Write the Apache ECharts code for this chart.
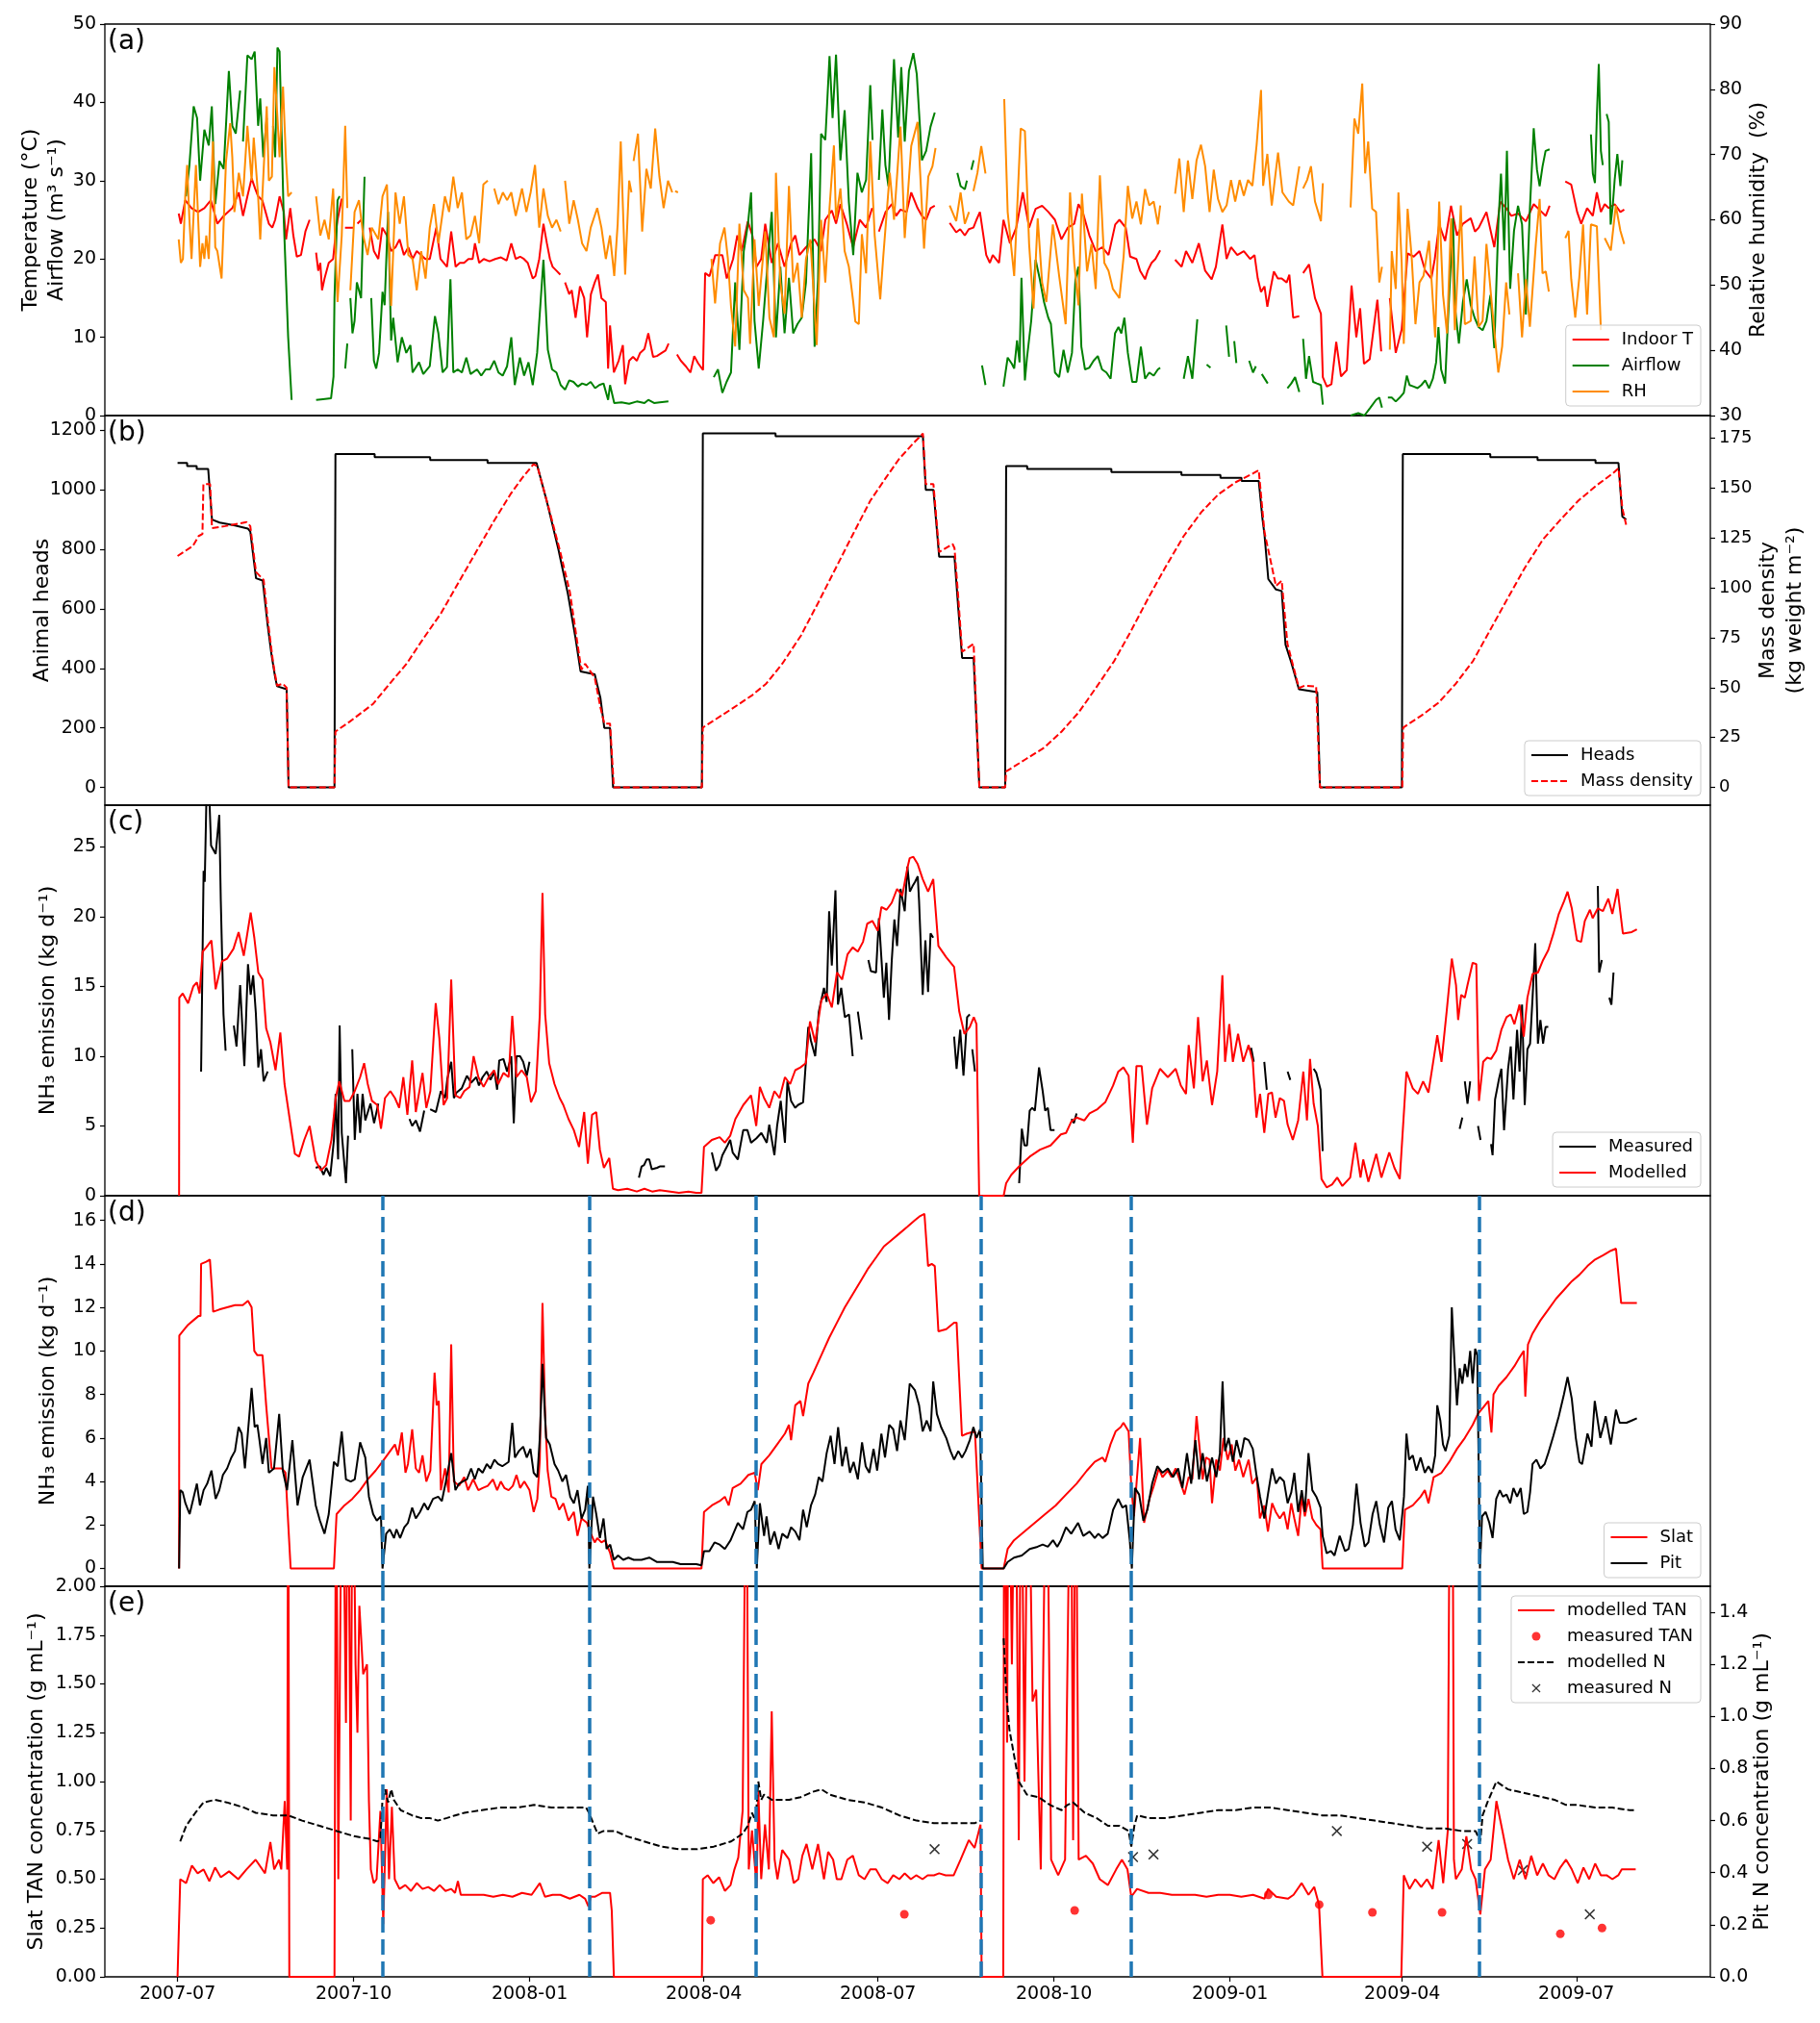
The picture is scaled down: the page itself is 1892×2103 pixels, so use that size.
<!DOCTYPE html>
<html><head><meta charset="utf-8">
<script src="https://cdn.jsdelivr.net/npm/echarts@6/dist/echarts.min.js"></script>
<style>html,body{margin:0;padding:0;background:#fff}#c{width:1892px;height:2103px}</style>
</head><body><div id="c"></div>
<script>
// ---------- time base (day offsets from 2007-07-01) ----------
const DAY0 = '2007-07-01';
const xRange = ['2007-05-24', '2009-09-09'];
const xTickLabels = ['2007-07','2007-10','2008-01','2008-04','2008-07','2008-10','2009-01','2009-04','2009-07'];
const vlineDates = ['2007-10-16','2008-02-01','2008-04-28','2008-08-24','2008-11-10','2009-05-11'];

// ---------- tick values ----------
const ticksTemp = [0,10,20,30,40,50];
const ticksRH = [30,40,50,60,70,80,90];
const ticksHeads = [0,200,400,600,800,1000,1200];
const ticksMass = [0,25,50,75,100,125,150,175];
const ticksEmisC = [0,5,10,15,20,25];
const ticksEmisD = [0,2,4,6,8,10,12,14,16];
const ticksTAN = [0,0.25,0.5,0.75,1,1.25,1.5,1.75,2];
const ticksPitN = [0,0.2,0.4,0.6,0.8,1,1.2,1.4];

// ---------- (a) ----------
const indoorT = [[0.6,25.8],[1.7,24.5],[4,27.5],[7.3,26.5],[10.7,26],[14,26.5],[17.4,27.5],[20.8,24.5],[24.1,25.5],[28.6,26.5],[32,28.5],[34.2,25.5],[36.5,28],[38.7,30.3],[40.5,29],[42.1,28],[44.3,27.5],[46,26],[47.7,24.5],[49.5,24],[51,25],[53.3,28],[55.5,26],[56.7,22.5],[58.9,26.5],[60.5,23],[62.3,20.3],[64.5,20.5],[66.8,23.5],[69,25],[70,null],[72.4,20.8],[73.5,18.5],[74.6,19.5],[75.5,16],[76.8,17.5],[79,19.5],[81.3,20],[82.5,23],[83.6,25],[85.8,27.7],[86.5,null],[87.5,24],[92,24],[93,null],[94,24.5],[96,25],[98,null],[100.4,24],[102.6,21],[104.9,20],[107,24],[109.4,23],[111.6,21],[113.9,21.5],[116,22.5],[118.3,20.5],[120.6,21.5],[122.8,20],[125,21],[127.3,20.5],[129.5,20],[131.8,20],[135.2,24],[137.4,20],[140.8,19],[143,23.5],[145.3,19],[147.5,19.5],[149.7,19.5],[152,20],[154.2,20],[155.4,22],[157.6,19.5],[160,20],[163,19.7],[166,20],[169,20.2],[172,19.8],[174.4,22],[176.7,20],[179,20.3],[181,20],[183,19.5],[185.6,17.5],[187,17.8],[189,20],[191.2,24.5],[193,22],[194.6,20],[196,19],[198,18.5],[200,18],[201,null],[202.5,17],[204.7,15.5],[206,16],[208,12.5],[210.3,16.5],[212.5,15],[214,10],[216,15.5],[218,17],[219.7,18],[221.5,15],[223.8,14.5],[225,6],[226,11.5],[228,5.5],[230.5,7],[232.7,9],[233.9,4],[236,7],[238,7.5],[240,7],[241.7,8],[244,8.5],[246,10.5],[248.5,7.5],[250.5,7.6],[253,8],[255,8.3],[256.6,9.2],[257.5,null],[261,7.8],[263,7],[265.6,6.3],[268,5.5],[270,7.6],[272,6.7],[274.6,5.8],[275.7,18.2],[278,17.8],[281,20.5],[284.7,20.5],[287,17.5],[290.3,20],[292.5,23],[294.8,21],[298,24.8],[300.4,23],[302.6,19],[305,20],[307.1,24.5],[310.5,19.5],[313.8,22],[317.2,19],[320.6,22],[322.8,23],[325,20.5],[328.4,21.5],[332.9,22.5],[336.2,21],[338.5,25],[341.9,26.2],[344.1,24.5],[346.4,27],[349.7,24.5],[353,21.5],[356.5,25],[359.8,24],[363,26.5],[364,null],[366.5,23.5],[370,26],[373.3,27],[375.5,25.5],[377.8,26.3],[381,26],[383.4,28.5],[386.7,26.5],[389,25.5],[391.2,25],[393.5,26.5],[395.7,26.8],[396.5,null],[403.5,24.6],[406.9,23.4],[409,23.8],[411.4,23],[413.5,23.8],[415.9,24],[417.5,25],[419.3,26],[422.6,20.5],[424.5,19.5],[426,20.5],[429.3,19.5],[431.6,25],[435,22],[438.3,24],[441.7,28.5],[445,24],[448.4,26.4],[451.8,26.8],[455.1,26],[458.5,25],[461.9,22.5],[465.2,24],[468.6,24.5],[470.8,27],[473,26],[476.5,23],[479.8,21],[483.2,21.5],[486.5,20.5],[490,24.4],[492.2,25],[495.5,24],[497.8,20.3],[501.1,20],[503,18.5],[505.6,17.4],[507,18.5],[509,19.5],[511,20],[513.5,21.1],[514.5,null],[521.3,19.9],[524.7,19],[527,21],[530.3,19.5],[533.7,22],[537,18.5],[540.4,17.4],[542.6,19],[546,24.4],[548.2,20],[550.5,21.5],[553.8,20.5],[557.2,21],[560.5,20],[562.8,20.5],[564.5,17.5],[566.2,15.8],[568,16.5],[569.5,13.9],[571,16],[572.9,18.4],[575,17.5],[577,17.5],[579.6,17],[581,18],[583,12.5],[586.2,12.7],[587,null],[588.2,18.2],[591.3,19.3],[594.4,15],[597.5,13],[598.5,4.9],[600.6,3.7],[603,4],[605.5,9.4],[608,5],[611,5.8],[613.5,16.6],[616,10],[618,13.7],[620,6.6],[623,7.2],[627,14.8],[629,8.2],[630.5,null],[633.5,15],[636.6,8],[639.7,11],[642.8,20.7],[646,20.3],[649,21],[652,18.5],[655.2,17.5],[657,20],[659.3,24.4],[662.4,22.3],[665.5,26.8],[668.6,23],[671.7,24.5],[675.8,25.2],[678,23.5],[680,24],[682,25],[684,26],[688.1,21.5],[691.2,27.3],[694.3,26.5],[697,25.5],[700.5,25.8],[704.6,24.8],[708.7,27],[712.9,26],[715,25.5],[717,26.8],[718,null],[725.2,29.9],[728.3,29.5],[731.4,26],[733.5,24.5],[736.6,26.5],[739.6,25.5],[741.7,28.5],[743.8,26],[745.8,27],[747.9,26.5],[751,27],[754,26],[756,26.3]];

const airflow = [[4.4,28],[6.2,32],[8.4,39.5],[10.2,38],[11.8,30],[14,36.5],[16.3,34.5],[17.9,39.5],[19.7,27],[21.9,32.5],[24.1,31.5],[26.8,44],[28.6,37],[30.4,36],[32.7,41.5],[33.5,null],[34.2,35],[36.5,46],[38.7,45.5],[40.3,46.5],[42.1,37],[43.2,40.5],[44.8,33],[46.6,38],[47.5,null],[49.9,37],[51,33],[52.2,47],[53.3,46.5],[55.5,25],[57.8,10],[59.6,2],[60.2,null],[72.4,2],[76,2.1],[80.2,2.2],[81.5,5],[82,15],[83.6,27.5],[84.7,28],[85.5,null],[87.6,6],[88.7,9.2],[89.5,null],[90.3,15],[91.4,10.5],[92.5,12.1],[93.7,17],[95.9,15],[97.7,30.5],[98.5,null],[101.2,15],[102.6,7],[103.8,6],[105.3,8],[107.1,15.8],[108.2,14.1],[110,26],[111.6,9.6],[112.7,12.5],[115,6.8],[117.2,10],[119.5,8],[121.7,9],[122.8,5.5],[126.2,6.8],[128.4,5.3],[131.8,6.3],[134.5,12.7],[136.3,10.5],[138.5,5.5],[140.8,6.2],[142.6,17.4],[144.1,5.5],[146.4,5.9],[148.6,5.5],[150.9,7.4],[153.1,5.3],[156.5,5.9],[158.7,5.1],[161,5.9],[163.2,5.9],[165.5,7],[167.7,5.5],[169.9,5.1],[172.2,6.3],[174.4,10],[176.2,3.9],[178.9,7.4],[181.1,5.1],[183.4,6.8],[185.6,3.9],[187.9,8],[191.2,19.9],[193.5,8.4],[195.7,5.9],[198,5.5],[200.2,3.9],[202.5,3.3],[204.7,4.5],[206.9,4.3],[209.2,3.7],[211.4,4.1],[213.7,3.9],[215.9,4.3],[218.2,3.5],[220.4,3.9],[222.6,4.1],[225,2],[226,3.9],[228.2,1.6],[232,1.7],[236,1.5],[240,1.8],[244,1.6],[246,2],[249,1.6],[252,1.7],[256.5,1.8],[257.5,null],[280.2,4.9],[282.4,5.9],[284.7,2.9],[286.9,4.3],[289.2,5.5],[291.4,17],[293.6,8.4],[295.9,21],[298.1,24.5],[299.7,28.5],[301.5,12.1],[303.7,6],[306,12.1],[308.2,19],[310.5,26],[312.7,10],[315,19],[317.2,10.5],[319.5,17.6],[321.7,10.5],[324,11.7],[326.2,12.5],[328.4,17],[331.1,33.5],[332.9,8.8],[334.7,17.4],[336.3,36],[338.5,35.2],[340.7,45.9],[342.3,38],[344.1,46.1],[346.4,32.6],[348.6,39],[350.8,27.3],[353.1,20.5],[355.3,31],[357.6,28.5],[359.8,30.1],[362,42.2],[363.2,35.2],[364,null],[366.5,30.1],[368.3,39.1],[369.9,32],[371.5,29.3],[374.4,45.5],[376.6,35.5],[378.2,44.5],[380,35],[382.2,44],[384.5,46.3],[386.3,43.6],[389,32.6],[391.2,33.8],[393.5,36.9],[395.7,38.7],[396.5,null],[407.5,31],[409.2,29.3],[411.4,28.9],[412.5,30],[413,null],[414.8,31.4],[416,32.6],[416.5,null],[420.4,6.4],[422.2,3.9],[423,null],[431.6,3.7],[433.8,7.4],[436,6.6],[437.2,6],[438.7,9.6],[440,6.8],[441,17.6],[442.8,4.5],[443.9,7.4],[446.1,12.1],[448.4,19.9],[450.6,17.4],[452.8,14.5],[455,12.5],[456.4,11.7],[458.5,5.5],[460.7,4.9],[463,8.4],[465.2,5.5],[467.4,8],[469.2,17.4],[470.8,19],[472.3,8.8],[474.2,5.9],[476.4,6.1],[478.7,7],[480.9,7.6],[483.1,5.9],[485.4,5.5],[487.6,4.7],[489.9,10.5],[491.7,11.3],[493.2,10.5],[494.8,12.5],[496.6,8],[498.9,4.3],[501.1,4.3],[503.4,8.8],[505.6,4.7],[507.8,5.5],[510.1,5.1],[512.3,5.9],[513.5,6.1],[514.5,null],[525.8,4.7],[528,7.6],[530.3,4.7],[532.9,12.3],[533.5,null],[537.8,6.5],[539.8,6.1],[540.5,null],[548,11.5],[549.5,7.5],[550.2,null],[552.2,9.5],[553.3,6.7],[554,null],[560,7],[562,5.5],[563.5,6.3],[564,null],[566.6,5.3],[569.7,4.1],[570,null],[580,3.5],[582,4.1],[584,4.9],[586.2,3],[587,null],[588.2,9.8],[589.7,4.7],[591.3,7.6],[593.4,4.3],[595.4,4.1],[597.5,3.9],[598.5,1.4],[599.5,null],[613,0],[617,0.3],[620.2,0],[623.3,1],[626.3,2],[628,2.3],[629.4,1],[630,null],[632.5,2.3],[634.5,2.3],[636.6,1.8],[638.7,2.3],[640.8,2.9],[642.4,5.1],[643.8,3.9],[646,3.7],[648,3.5],[650,3.9],[652,4.5],[654,3.5],[656,4.7],[657.7,6.8],[658.9,11.3],[660.3,5.9],[662.4,4.1],[663.4,9.6],[666.5,25.2],[667.5,14],[669.6,9.2],[671.7,14.5],[673.7,17.4],[675.8,14.1],[677.8,12.5],[679.9,11.3],[682,10.9],[684,12.1],[686.1,15.4],[688.1,8.6],[690.2,24.4],[691.6,30.9],[693.3,21.1],[694.7,33.8],[696.4,16.2],[698.4,23.6],[700.5,26.8],[702.6,24.4],[704.6,12.9],[706.7,26.4],[708.7,36.7],[710.4,31.4],[711.8,29.3],[713.3,31.8],[714.9,33.8],[717,34],[718,null],[738.6,35.9],[739.6,30.9],[740.7,29.7],[741.7,38.3],[742.7,44.9],[743.8,33.8],[744.8,32],[745.5,null],[746.8,38.5],[747.9,37.5],[748.9,24.4],[750,26.8],[751,30.1],[752.4,33.4],[754,29.3],[755,32.6]];

const rhPct = [[0.6,57],[1.7,53.4],[2.8,54],[4,63.6],[5,68.4],[6.2,60],[7.3,54],[9.6,68.4],[11.8,52.8],[13,56.4],[14,54],[15,57.6],[16.3,54],[17.4,63.6],[18.5,72],[19.7,55.8],[20.8,55.2],[23,51],[25.3,68.9],[27.5,74.8],[28.6,69.6],[29.7,61.2],[32,67.2],[34.2,63.6],[36.5,74.4],[38.7,66],[39.8,72.6],[42.1,63.6],[43.2,57],[46.6,77.4],[47.7,66],[49.3,66.6],[50.6,83.4],[52.2,75.6],[53.3,69.6],[55.1,80.4],[56.7,69],[57.8,63.6],[59.6,64.2],[60.5,null],[72.4,63.6],[74.6,57.6],[76.8,60],[79,57],[81.3,64.8],[83.6,47.4],[85.8,57.6],[87.6,74.4],[88.7,61.8],[89.5,null],[90.3,49.2],[92.5,61.2],[94.8,63],[97,57.6],[99.3,54.6],[101.5,58.8],[104.9,57],[107.1,63.6],[109.4,65.4],[111.6,46.8],[113.9,64.2],[116.1,59.4],[118.3,63.6],[120.6,54.6],[122.8,54],[125,49.2],[127.3,55.2],[129.6,51],[131.8,58.8],[134,62.4],[136.3,56.4],[139.7,63.6],[141.9,61.2],[144.1,66.6],[146.4,61.8],[148.6,64.2],[150.9,57],[153.1,57.6],[155.4,60.6],[157.6,56.4],[159.8,65.4],[162.1,66],[163.5,null],[165.5,64.8],[167.7,62.4],[170,64.2],[172.2,63],[174.4,64.2],[176.7,60.6],[180,64.8],[182.3,61.2],[184.5,64.2],[186.8,68.4],[189,58.8],[191.2,64.8],[193.5,60.6],[195.7,58.8],[198,60],[200.2,58.2],[201.5,null],[202.5,66],[204.7,59.4],[207,63],[209.2,60],[211.4,56.4],[213.7,55.2],[215.9,58.8],[219.3,61.8],[221.5,58.8],[223.8,54],[226,57.6],[228.2,51.4],[230,59.4],[231.6,72],[233.9,51.6],[236,66],[237.2,64.2],[237.8,null],[238.3,69],[240.6,73.2],[242.8,58.2],[245,67.8],[247.3,64.8],[249.6,74],[251.8,66.6],[254,61.8],[256.3,66],[258.5,64.2],[259.5,null],[260,64.4],[261.5,64.2],[262,null],[279,54],[280.9,47.2],[283.5,56.4],[285.8,58.8],[287.6,54],[289.2,46.8],[291.4,40.6],[293.6,59.4],[295.9,49.2],[298.1,48],[299.2,41],[301.5,57],[303.7,46.8],[307.1,58.2],[309.3,45],[311.6,42],[312.7,67.2],[315,50.4],[317.2,45.6],[319.5,65.2],[321.7,50.4],[324,53.4],[326.2,45],[328.4,54],[330.7,57],[334,40.8],[336.3,60],[338.5,50.4],[340.7,61.8],[343,71.4],[344.1,60],[346.4,64.8],[348.6,55.2],[350.8,52.8],[353.1,47.4],[354.2,44.4],[356,44],[357.6,57.8],[359.8,51.8],[362,72],[364.3,57.6],[367.2,47.8],[368.8,54.4],[372.2,67.2],[374.4,60],[377.8,74.3],[380,57.2],[383.4,71.3],[386.7,75],[390.1,55.6],[392.3,66.6],[394.5,68.2],[396.1,71],[396.8,null],[403.5,62.2],[406.9,59.8],[409.2,64.2],[411.4,59.4],[413.6,61.2],[414.5,null],[415.9,64.4],[418,67.2],[420,71.3],[422.2,67.1],[423,null],[432,78.5],[433.8,61.2],[437.2,51.4],[440.6,74],[442.8,73.6],[445,56.3],[447.3,46.4],[449.5,60.2],[451.8,50.4],[454,47.4],[457.4,59.3],[460.7,51.4],[464.1,44],[466.4,64.2],[468.6,53.4],[470.8,46.9],[472.6,64],[475.3,52.1],[477.6,56.3],[479.8,49.4],[482,66.8],[484.3,53.4],[486.5,52.2],[488.8,49.4],[492.2,48],[494.4,54.4],[496.6,65.2],[498.9,60.2],[501.1,62.8],[503.4,59.3],[505.6,64.7],[507.8,62.2],[510.1,62.8],[512.3,59.3],[513.5,62.2],[514.5,null],[521.3,64],[523.5,69.4],[525.8,61.2],[528,69.1],[530.3,63.2],[532.5,69.1],[534.8,71.5],[537,68.2],[539.3,61.2],[541.5,67.7],[543.7,63.2],[546,61.2],[548.2,62.2],[550.5,66.1],[552.7,62.8],[555,66.1],[557.2,63.7],[559.4,66.1],[561.7,65.2],[563.9,71.5],[566.2,79.9],[567.3,65.2],[569.5,70.1],[571.8,62.2],[575.1,70.3],[577.4,64.2],[580.7,62.8],[583,62.2],[586.2,68.2],[587,null],[588.2,64.8],[590.3,66.1],[592.3,68.2],[594.4,62.8],[597.5,59.8],[598.5,65.6],[599.5,null],[613,61.9],[615,75.5],[617,73.2],[618,73.1],[619.1,80.9],[620.6,67.1],[622.2,72],[624.3,61.7],[626.3,61.2],[628,50.4],[629.4,52.8],[630.5,null],[633.5,40.1],[634.5,55.2],[636.6,49.4],[638,64.2],[639.7,53.4],[640.8,41],[642.8,61.7],[644.9,54.4],[646.9,44],[649,50.4],[651.1,51.4],[654,56.8],[657.2,42],[659.3,62.8],[661.3,48.5],[663.4,42.6],[665.5,60.2],[667.5,43.1],[670.6,62.2],[672.7,44],[675.8,44.5],[677.8,54.4],[679.9,43.6],[682,44.5],[684,56.3],[687,46.4],[690.2,36.6],[692.2,40.6],[694.3,50.4],[696,45.5],[696.5,null],[700.5,51.8],[702.6,42],[704.6,50.9],[706.7,43.6],[709.8,56.3],[711.8,63.2],[713.3,51.8],[715,52.1],[716.6,49],[717.5,null],[725.2,57.2],[726.9,58.3],[728.3,50.9],[730.4,45],[732.5,51.1],[734.5,59.3],[736.6,45.5],[738.6,59.3],[741.7,59],[743.8,43.1],[744.8,null],[745.8,57.2],[749,55.3],[751.6,62.2],[754,58.3],[756,56.3]];

// ---------- (b) ----------
const heads = [[0,1090],[5,1090],[5,1080],[10,1080],[10,1070],[16,1070],[18,900],[22,890],[30,880],[36.7,870],[38,860],[41,703],[44.5,695],[47,550],[49,450],[51,370],[52,340],[57,330],[58,0],[82,0],[82.5,1120],[103,1120],[103,1110],[132,1110],[132,1100],[162,1100],[162,1090],[187.6,1090],[193,960],[199,800],[204,650],[208,500],[210.6,390],[218,380],[221,300],[223,200],[226,200],[227.6,0],[274,0],[274.5,1190],[312.5,1190],[312.5,1180],[389.5,1180],[391,1000],[395,1000],[398,775],[406,775],[408,600],[410,435],[416,435],[419,0],[432.5,0],[433,1080],[444,1080],[444,1070],[488,1070],[488,1060],[524.6,1060],[524.6,1050],[545,1050],[545,1040],[556,1040],[556,1030],[565,1030],[567,900],[568,850],[570,700],[574,665],[577,660],[579,480],[582,420],[586,330],[595.6,320],[597,0],[639.8,0],[640.3,1120],[686,1120],[686,1110],[710.7,1110],[710.7,1100],[741,1100],[741,1090],[753,1090],[755,910],[757,900]];

const massDensity = [[0,116],[8,121],[11,126],[13,127],[13.5,152],[17,152],[18,130],[25,131],[36,133],[38,131],[41,108],[45,104],[47,85],[50,62],[52,51],[55,52],[57,50],[58,0],[82,0],[82.5,28],[90,33],[102,41.7],[110,51],[119.7,62],[128,74],[137.8,87.5],[147,103],[156,118],[165,133],[174,147],[180,155],[186,162],[188,161],[194,140],[200,118],[205,98],[211,59],[213,62],[218,55],[221,40],[223,32],[226,32],[228,0],[274,0],[274.5,30],[289.5,39.3],[300,46],[307.6,52],[316,62],[325.7,76],[335,93],[344,110],[353,127],[362,143.7],[370,155],[377,164.6],[384,172],[389.5,177.4],[391,152],[395,152],[398,118],[405,122],[406,120],[408,95],[410,68],[416,72],[419,0],[432.5,0],[433,8],[443,14],[453,20],[462,28],[471,37.7],[480,50],[489.5,63.4],[498,78],[507.6,95.5],[516,110],[525.8,126],[535,138],[544,147],[553,153],[562,157.4],[565,159],[568,128],[574,101],[577,103.6],[580,72],[586,49.8],[589,51],[595,50.6],[597,0],[640,0],[640.5,30],[650,36],[659,42.5],[668,52],[677,63.4],[686,79],[695.5,95.5],[704,110],[713.6,124.4],[723,134.5],[732,143.7],[741,151],[750,157.4],[753,160],[755,140],[757,131.7]];

// ---------- (c) ----------
const emisMeasured = [[12.3,8.9],[13.6,23.3],[14.2,22.5],[15.3,30],[16.5,29],[17.5,25.1],[19.9,24.5],[21.8,27.3],[22.6,21.1],[24,13],[25.1,10.4],[26,null],[29.4,12.2],[30.8,10.7],[32.7,15.1],[34.9,9.3],[36.8,16.6],[38.2,14.4],[39.5,15.8],[40.9,13.1],[42.2,9.2],[43.6,10.5],[45,8.2],[47.1,8.9],[48,null],[72.2,2],[74.4,2.1],[76.3,1.5],[77.7,2],[79.8,1.4],[81.7,4],[82.6,7.3],[83.9,2.6],[84.7,12.2],[85.8,4.5],[88,0.9],[89.1,4.3],[90,null],[91.3,10.5],[92.6,4],[94,7.3],[95.4,4.5],[96.7,7.3],[98.1,5.4],[100.8,6.6],[102.7,5.2],[104.9,6.6],[106,null],[121.2,5.5],[122.6,5],[124.5,5.4],[126.7,4.6],[128.9,6.1],[130,null],[132,6.2],[135,6],[137.6,7.5],[139.8,7],[141,8.4],[143,9.6],[144.4,7],[145.8,7.4],[148.5,7.7],[151.2,8.6],[153.4,8.1],[156.1,8.5],[157.5,7.9],[159.4,8.5],[161.6,8.9],[163.5,8.3],[165.6,8.9],[167,7.6],[168.1,9.7],[170.3,9.8],[172.2,8.9],[174.4,10],[175.7,5.2],[177.1,10],[179,10],[180.6,9.6],[182.5,8.6],[183.9,9.6],[185,null],[241.1,1.3],[242.5,2.1],[243.8,2.2],[245.1,2.6],[246.5,2.6],[247.8,1.9],[250.6,2],[252,2.1],[254.7,2.1],[255.5,null],[279.2,3.1],[281.4,1.8],[283.3,2.2],[284.7,2.9],[287.4,3.6],[288.8,4],[290.1,3.1],[292.8,2.6],[295.6,4.7],[297.8,4.7],[299.7,3.8],[302.4,4.1],[305.1,4.5],[307.9,3.8],[309.2,5.1],[311.9,2.9],[313.3,5],[315.2,6.8],[317.4,3.8],[318.7,8.2],[320.6,6.8],[322.8,6.3],[324.2,6.5],[326.9,6.7],[329.6,12.1],[331,11.1],[333.2,10],[335.1,13.2],[337.8,14.9],[339.2,13.9],[340.5,20.4],[341.9,16.5],[343.8,21.9],[345.1,13.7],[346.8,14.9],[348.7,12.8],[350.9,13],[352.8,10],[353.5,null],[355.5,13.2],[357.5,11.2],[358,null],[361,16.9],[362.3,16.1],[365,16],[366.5,19.9],[369.1,14.2],[370.4,16.7],[371.8,12.6],[373.2,16.8],[374.6,19.8],[376,17.9],[377.8,22],[380,20.4],[381.4,23.6],[382.7,21.8],[384.1,22.2],[385.4,22.5],[386.8,22.9],[387.5,21.1],[389.4,14.4],[390.8,18.3],[392.2,14.6],[393.5,18.8],[394.9,18.5],[395.5,null],[405.8,11.4],[407.1,9.1],[409,11.9],[410.7,8.6],[412.6,12.8],[414,13],[414.7,null],[415.3,10.5],[416.7,8.9],[417.5,null],[439.8,0.9],[441.2,4.8],[442.6,3.6],[443.9,3.6],[445.3,6.1],[446.6,6.3],[448,6.1],[450.2,9.2],[452.1,7.5],[453.4,6.1],[454.8,6.3],[456.2,4.7],[458.3,4.7],[459,null],[467.1,5.5],[468.4,5.2],[469.8,5.9],[470.5,null],[561,10.6],[562.4,9.6],[563,null],[567.9,9.6],[569.2,7.6],[570,null],[580.1,8.9],[581.5,8.3],[582,null],[593.7,9.1],[595.1,8.8],[597.3,7.6],[598.4,3.2],[599,null],[670,4.8],[671.4,5.6],[672,null],[672.7,8.2],[674.1,6.6],[675.5,8.2],[676,null],[679.6,5],[680.9,4],[681.5,null],[686.4,3.7],[687.2,2.9],[688.5,6.9],[690.6,8.4],[691.8,9.1],[693.2,4.7],[695.3,9.1],[696.7,10.7],[698.1,6.9],[700,11.9],[701.3,8.9],[702.6,13.7],[704,6.5],[705.4,10.5],[706.8,10.9],[708.1,14.2],[709.5,18.1],[710.9,10.9],[712.2,12.6],[713.6,10.9],[714.9,12.1],[716.3,12.1],[717,null],[742.2,22.2],[742.9,16],[744.3,16.9],[745,null],[748.2,14.2],[749.3,13.7],[750.4,16]];

const emisModelled = [[0.8,0],[0.9,14.2],[2.7,14.5],[5.5,13.8],[8.2,15],[10.1,15.3],[11.5,14.5],[13.1,17.5],[15,17.8],[17.7,18.3],[19.9,14.8],[23.2,16.8],[25.9,17],[29.2,17.7],[31.9,18.9],[34.6,17.2],[38.2,20.3],[40.1,18.5],[42.2,16],[44.4,15.5],[46.3,12],[48.5,11],[51.2,9],[53.7,11.7],[55.9,8],[58.6,5.5],[61.3,3],[63.5,2.8],[66.2,4],[69,5],[72.2,2.5],[74.9,1.8],[77.7,2.2],[80.4,4],[82.6,7],[84.5,8.2],[87.2,6.8],[89.9,6.8],[92.6,7.5],[95.4,8.5],[97.5,9.5],[99.4,8],[101.6,6.8],[104.4,6.5],[106.3,4.8],[108.4,7],[111.2,7.5],[113.6,7],[115.8,6.3],[118,8.5],[120.1,5.8],[122.6,9.7],[124.5,6],[128,8.8],[130,6.3],[132.1,7.5],[134.9,13.8],[136.8,11.3],[139,6.5],[140.9,7],[143,15.5],[145.2,7.2],[147.7,7],[149.8,7.5],[152.6,7.8],[154.7,10],[157.2,8.5],[159.9,7.8],[162.6,8.5],[165.4,9],[167.5,8],[170.3,8.8],[173,8.5],[174.9,12.9],[177.1,8.5],[179.8,9],[182.5,8.5],[184.7,6.7],[187.2,7.5],[189.3,13],[190.7,21.7],[192.1,13],[194.2,9.5],[197,8],[199.7,7],[201.6,6.5],[204.3,5.5],[207.1,4.7],[209.8,3.5],[212.5,6],[214.4,2.3],[216.6,5.8],[218.8,6],[220.7,3.3],[222.8,2],[225.6,2.7],[227.5,0.5],[230.2,0.4],[235,0.5],[240,0.3],[244,0.5],[248,0.3],[252,0.4],[257.5,0.3],[262,0.2],[267,0.3],[271,0.2],[273.8,0.2],[275.1,3.5],[279.2,4],[283.3,4.2],[286,3.8],[288.8,4.3],[291.5,5.5],[295.6,6.5],[299.7,7.2],[302.4,5],[304.3,7.8],[306.5,7],[309.2,6.3],[311.9,7.5],[314.6,7],[317.4,8.5],[320.1,8],[322.8,9],[325.5,9.2],[328.3,9.5],[330.5,12.5],[333.2,11],[336.4,14],[339.2,14.5],[341.9,13.5],[344.6,16],[347.3,15.5],[350.1,17.3],[352.8,17.8],[355.5,17.5],[358.2,18.2],[360.4,19.5],[363.1,19.7],[365.9,19],[367.8,20.7],[370.5,20.5],[373.2,21],[376,22],[378.7,21.5],[381.4,23.5],[382.6,24.2],[384.5,24.3],[386.7,23.8],[389.4,22.7],[392.2,21.8],[394.9,22.7],[397.6,17.9],[401.7,17.1],[405.8,16.4],[408.5,13.2],[411.2,11.6],[414,12.1],[416.1,12.8],[417.5,12.3],[418.9,0],[431.7,0],[433,0.9],[435.7,1.5],[439.8,2.1],[445.3,2.8],[450.7,3.3],[456.2,3.6],[461.6,4.4],[464.3,4.5],[467,5.3],[469.8,5.6],[473.9,5.4],[476.6,5.9],[480.7,6.2],[484.8,6.7],[488.9,7.9],[491.6,8.9],[494.3,9.2],[497,8.6],[499.2,3.8],[501.1,9.3],[503.8,9.3],[506.6,5.1],[509.3,7.7],[513.4,9.1],[517.5,8.5],[521.6,9.1],[524.3,7.9],[527,7.3],[528.4,10.8],[531.1,7.7],[533.3,12.8],[535.7,8.2],[537.9,9.7],[540.6,6.5],[543.3,8.9],[546,15.8],[547.4,9.6],[549.6,12.3],[551.5,9.6],[554.2,11.6],[556.9,9.6],[559.7,10.8],[561.9,9.6],[563.8,5.6],[565.7,7.3],[567.9,4.5],[570,7.3],[571.9,7.4],[573.8,5.6],[576,7],[578.2,6.8],[580.1,5.1],[582.8,4],[585.6,5.4],[588.3,8.9],[590.2,5.4],[591.8,9.8],[593.7,6.6],[595.9,5],[597.8,1.2],[600.5,0.6],[603.3,0.8],[606,1.3],[608.7,0.7],[612.8,1.3],[615.5,3.8],[618.2,1.3],[619.6,2.6],[622.3,1],[626.4,3],[629.1,1.3],[633.2,3.1],[635.9,2],[638.7,1.2],[642.2,8.9],[645.5,7.7],[648.2,7.3],[650.9,8.2],[653.7,7.4],[656.4,9.8],[658.3,11.5],[660.5,9.6],[663.2,13.2],[665.9,17],[668.1,15.1],[669.2,12.6],[670.8,14.4],[672.7,14.2],[674.1,15.1],[676.8,16.7],[678.7,16.6],[680.1,6.8],[682.3,9.6],[684.4,9.9],[686.4,9.8],[689.1,10.4],[691.8,11.9],[694.5,12.8],[696.7,13],[698.6,12.3],[701.3,13.7],[703.5,11.4],[705.4,14.2],[708.1,15.9],[710.9,16],[713.6,16.9],[716.3,17.6],[719,18.8],[721.8,20.2],[724.5,21.1],[726.4,21.8],[728.6,20.6],[731.3,18.3],[733.5,18.2],[735.4,19.7],[738.1,20.5],[739.5,19.9],[742.2,20.6],[744.9,20.4],[747.7,21.3],[749.8,20.2],[752.5,22],[755.3,18.8],[759.9,18.9],[762.6,19.1]];

// ---------- (d) ----------
const slatEmis = [[0.8,0],[0.9,10.7],[2.7,10.9],[5.5,11.2],[8.2,11.4],[10.9,11.6],[12,11.6],[12.3,14],[15,14.1],[16.9,14.2],[18,12.8],[18.6,11.8],[21.8,11.9],[25.9,12],[30,12.1],[34.1,12.1],[36.8,12.3],[38.7,12],[40.1,10],[41.7,9.8],[44.4,9.8],[46.3,7.5],[49.1,4.6],[54.5,4.6],[56.4,4.4],[59.1,0],[81.7,0],[83.1,2.5],[87.2,2.9],[91.3,3.2],[95.4,3.6],[99.4,4.1],[103.5,4.5],[107,4.9],[110.3,5.3],[113.6,5.7],[115.2,5.2],[117.2,6.25],[119.1,4.4],[120.4,4.8],[122.6,6.4],[124.5,4.6],[126.2,4.4],[128,5.2],[130,4],[132.1,4.5],[134.3,9],[135.4,7.5],[136.5,7.7],[137.6,3.6],[139.8,4.6],[141.7,3.5],[143,10.3],[144.4,4],[147.1,3.8],[149.8,4.2],[151.8,3.6],[154.5,4.1],[157.2,3.6],[159.4,3.7],[162.1,3.8],[164.8,4.1],[167,3.6],[168.9,4],[170.8,3.7],[173,3.6],[175.2,3.8],[177.1,4.3],[179,3.7],[181.2,4],[183.9,3.6],[186.1,2.6],[188,3.2],[189.3,5],[190.7,12.2],[192.1,7],[193.4,4.5],[195.3,3.3],[197.5,3.2],[199.4,2.7],[201.6,3],[204.3,2.2],[207.1,2.6],[209,1.5],[211.1,2.3],[213.9,2.1],[216,1.6],[218,1.2],[219.3,1.4],[221.5,1.2],[223.4,1.3],[226.1,0.7],[228,0],[273.8,0],[275.1,2.6],[279.2,2.9],[283.3,3.1],[286,3.3],[288,2.9],[290.1,3.7],[294.2,3.9],[298.3,4.3],[301.6,4.4],[303.2,3.6],[305.1,4.8],[309.2,5.2],[313.3,5.7],[317.4,6.2],[319.5,6.6],[320.6,5.9],[322.8,7.5],[325.5,7.7],[326.9,7],[329.6,8.5],[332.3,9],[336.4,9.8],[340.5,10.6],[344.6,11.3],[348.7,12],[352.8,12.6],[356.9,13.2],[361,13.8],[365.1,14.3],[369.1,14.8],[373.2,15.1],[377.3,15.4],[381.4,15.7],[385.3,16],[388.1,16.2],[390.3,16.3],[392.2,13.9],[394.1,14],[395.7,13.9],[397.6,10.9],[401.7,11],[405.8,11.3],[407.1,11.3],[409.9,6.1],[412.6,6.2],[416.7,6.3],[420.2,0],[431.7,0],[433.8,0.9],[437.1,1.3],[442.6,1.7],[448,2.1],[453.4,2.5],[458.9,2.9],[464.3,3.4],[469.8,3.9],[475.2,4.5],[479.3,4.9],[483.4,5.1],[484.8,4.9],[487.5,5.7],[490.2,6.3],[492.9,6.5],[494.3,6.7],[497,6.3],[498.4,3.75],[499.8,2.4],[503,6],[505.1,2.1],[507.9,3.2],[510,3.75],[512.8,4.6],[514.7,4.2],[517.5,4.5],[519.4,4.2],[521.6,4.6],[524.3,3.9],[526.2,3.4],[528.4,4.2],[530.3,4.1],[532.5,7],[533.8,5.8],[535.7,4.1],[537.4,5.1],[539.3,5],[540.6,3],[542.8,5],[544.7,4.5],[546.6,6],[548.8,5],[550.9,5.7],[552.8,4.5],[554.7,5],[556.9,4.2],[559.7,5],[561.6,3.9],[564,4.2],[565.6,2.3],[567.9,2.9],[569.8,1.7],[572,3],[573.9,2.6],[576,2.3],[578.2,2.6],[580.1,1.8],[582,3],[583.6,2.3],[585.6,1.5],[587.5,3.3],[589.1,2.4],[591,3.2],[593,2.3],[595.1,2],[597.3,1.8],[598.4,0],[640,0],[641.4,2.7],[645.5,2.9],[649.6,3.3],[651.8,3.6],[653.7,3],[656.4,4.2],[660.5,4.4],[664.6,4.9],[668.6,5.5],[672.7,6],[676.8,6.6],[679.5,7.1],[682.3,7.4],[685,7.7],[686.6,6.25],[687.7,8],[690.4,8.4],[694.5,8.8],[698.6,9.3],[701.3,9.7],[703.5,10],[704.3,7.9],[705.7,10.3],[708.1,10.8],[712.2,11.4],[716.3,11.9],[720.4,12.4],[724.5,12.8],[728.6,13.2],[732.6,13.5],[736.8,13.9],[740.8,14.2],[745,14.4],[749,14.6],[751.7,14.7],[754.4,12.2],[762.6,12.2]];

const pitEmis = [[0.8,0],[1.4,3.6],[2.7,3.5],[4.1,3],[6.3,2.5],[8.2,3.2],[10.1,3.9],[11.7,2.9],[13.6,3.6],[15.5,3.9],[17.7,4.5],[19.9,3.2],[21.8,3.6],[23.7,4.3],[25.9,4.6],[28.1,5.1],[30,5.4],[31.9,6.5],[33.5,6.2],[35.2,4.6],[36.8,6.3],[38.7,8.3],[40.3,6.5],[41.7,6.6],[42.8,5.9],[44.4,4.8],[46.3,6],[47.7,4.4],[50.4,4.6],[53.1,7.1],[55,4.5],[57.2,3.6],[60,5.9],[62.7,2.9],[65.4,4.2],[69,5],[72.2,2.9],[74.4,2.2],[76.8,1.6],[79,2.5],[81.7,4.9],[83.7,4.7],[85.8,6.3],[88,4.1],[90.5,4],[92.6,4.1],[95.4,5.8],[98.1,5.1],[100,3.3],[102.2,2.5],[104.1,2.2],[106.3,2.4],[107.1,0],[109,1.6],[110.9,1.8],[113.1,1.4],[114.4,1.8],[116.3,1.4],[118.5,1.9],[120.4,2.1],[122.6,2.8],[124.5,2.3],[126.7,2.6],[128.9,3],[130.8,2.7],[133.5,3.2],[136.2,3.3],[138.1,3.1],[140,3.9],[143,5.3],[145.2,3.6],[147.1,3.9],[149,4],[151.2,4.1],[153.4,4.6],[155.3,4.1],[157.2,4.6],[159.4,4.4],[161.6,4.8],[163.5,4.6],[165.6,5],[167.5,4.8],[169.7,4.7],[173,4.9],[174.9,6.7],[176.3,5.1],[178.4,5.4],[180.6,5.6],[182.5,5.1],[184.4,5.5],[186.1,4.4],[188,4.2],[189.3,6],[190.7,9.4],[192.6,6],[194.5,5.7],[197,4.8],[198.9,4.5],[201.1,4],[203,4.3],[205.2,3.3],[207.1,3],[209,3.6],[211.1,2.3],[213,2.7],[214.4,3.8],[215.2,0],[217.1,3.3],[218.8,2.5],[220.7,1.4],[222.6,2.3],[224.2,0.9],[226.1,1.1],[228,0.4],[230.2,0.6],[232.9,0.4],[235.6,0.5],[238.4,0.4],[242.5,0.4],[246.5,0.5],[250.6,0.3],[254.7,0.3],[258.8,0.3],[262.9,0.2],[267,0.2],[271.1,0.2],[273.8,0.15],[275.1,0.8],[277.9,0.8],[280.6,1.2],[283.3,1.1],[286,0.9],[289,1.3],[292.8,2.1],[295.5,1.8],[297.8,2.6],[299.7,2.7],[301.6,3.1],[302.7,0],[304.3,3],[306.5,1.5],[307.8,2.4],[309.7,1.1],[311.9,1.7],[314.1,0.9],[316,1.6],[318.7,1.4],[320.6,1.9],[322.8,1.7],[325,1.3],[326.9,2.7],[328.8,1.9],[331,2.9],[333.2,3.4],[335.1,4.2],[337,4],[339.2,5.3],[341.3,6.1],[343.3,4.8],[345.2,6.5],[347.3,4.7],[349.3,5.6],[351.4,4.4],[353.3,4.9],[355.5,4.1],[357.7,5.8],[359.6,4.7],[361.5,4.4],[363.7,5.5],[365.6,4.5],[367.8,6.2],[369.7,5.1],[371.9,6.6],[374,6.4],[376,5.4],[377.8,6.8],[380,5.9],[382.6,8.5],[385.3,8.2],[387.5,7.5],[389.4,6.3],[391.5,6.8],[393.5,6.3],[394.9,8.6],[396.8,7.1],[399,6.5],[401.7,6],[403.9,5.4],[405.8,5],[408,5.4],[409.9,5.1],[411.8,5.4],[414,5.9],[415.9,6.5],[417.5,6],[419.4,6.4],[420.8,0],[431.7,0],[433.8,0.3],[437.1,0.5],[441.2,0.6],[445.3,0.9],[449.4,1],[452.1,1.1],[454.8,1],[457.5,1.3],[459.7,1],[461.6,1.3],[464.3,1.9],[467,1.6],[470.6,2.1],[473.3,1.5],[476.6,1.7],[479.3,1.4],[481.2,1.6],[483.4,1.4],[486.1,1.6],[488.9,2.7],[491.6,3.2],[493.8,2.8],[495.7,2.9],[497.6,1.3],[498.7,0],[500.3,3.7],[502.5,3.4],[504.7,2.2],[506.8,2.7],[509.3,3.9],[512,4.7],[514.7,4.4],[517.5,4.6],[520.2,4.2],[522.9,4.6],[525.1,3.7],[527.5,5.3],[529.7,3.9],[531.9,5.9],[533.8,4.1],[535.7,5.3],[537.9,4],[540.6,5.1],[542.8,4.2],[544.7,5.3],[546.1,8.6],[547.4,5.4],[549.3,6],[551.5,4.9],[553.4,5.9],[555.6,5.1],[557.5,6],[559.7,5.9],[561.9,5.5],[563.8,4.3],[565.7,3.3],[567.9,2.3],[569.8,3.4],[572,4.6],[574,3.9],[576,4.2],[578.2,4],[580.1,3],[582,3.5],[583.6,4.4],[585.6,2.6],[587.5,3.6],[589.1,2.6],[591,5.3],[593,3.6],[595.1,3.3],[597.3,2.8],[598.4,1.5],[600.5,0.7],[602.7,0.8],[604.6,0.6],[607.3,1.5],[610.1,0.8],[612,0.9],[614.2,2],[616.1,3.9],[618.2,2.1],[620.4,1],[622.3,1.2],[624.5,2.5],[626.4,3.1],[628.3,2],[630.5,1.2],[632.7,2.8],[634.6,3.1],[636.5,1.8],[638.7,1.3],[640.9,3.3],[642.2,6.2],[643.6,5],[645.5,5.2],[647.4,4.5],[649.6,5.1],[651.8,4.4],[653.7,4.7],[655.6,4.4],[657.2,5.2],[658.3,7.5],[659.9,6.8],[661.3,5.7],[662.6,5.4],[664.6,6.1],[665.9,12],[667.3,9.5],[668.6,7.5],[670,9.2],[671.4,8.5],[672.7,9.4],[674.1,8.8],[675.5,10],[676.8,8.5],[678.1,10.1],[679.2,9.8],[680.6,0],[681.7,2.4],[683.6,2.6],[685.5,2.1],[687.2,1.4],[689.1,3.2],[691,3.6],[692.6,3.3],[694.5,3.4],[696.4,3],[698.1,3.7],[700,3.3],[701.9,3.7],[703.5,2.5],[705.4,2.6],[706.8,3.5],[708.1,4.8],[710.1,5],[712.2,4.6],[714.4,4.8],[716.3,5.3],[719,6.1],[721.8,7],[724.5,8],[726.4,8.8],[728.6,7.8],[730.7,6],[732.6,4.9],[734,4.8],[736.8,6.2],[738.9,5.6],[740.6,7.7],[743.5,6],[745,6.5],[746.3,7],[749,5.7],[751.7,7.3],[753.6,6.7],[757.2,6.7],[759.9,6.8],[762.6,6.9]];

// ---------- (e) ----------
const slatTAN = [[0,0],[1.4,0.5],[4.5,0.48],[7.5,0.57],[10.5,0.53],[13.6,0.55],[16.6,0.49],[19.6,0.56],[22.6,0.51],[26.9,0.54],[31.7,0.5],[36,0.55],[40.8,0.6],[45.7,0.53],[48.5,0.69],[50.5,0.55],[53,0.6],[54.2,0.55],[56,0.9],[57.3,0.55],[57.8,3],[58.4,0],[82,0],[82.8,3],[84,0.5],[86,3],[88,1.3],[89,3],[90.5,0.8],[91.5,3],[93,1.6],[94,1.25],[95,1.9],[97,1.55],[99,1.6],[100,0.9],[101,0.55],[102.5,0.48],[104,0.5],[106,0.85],[107.5,0.27],[109.3,0.96],[110.5,0.5],[112,0.87],[113.5,0.5],[116,0.45],[119,0.47],[122,0.44],[125,0.48],[128,0.45],[131,0.46],[134,0.44],[137,0.47],[140,0.44],[143,0.45],[145,0.43],[146.5,0.49],[148,0.42],[150,0.42],[155,0.42],[160,0.42],[165,0.41],[170,0.42],[175,0.41],[180,0.43],[185,0.42],[189.3,0.48],[192,0.41],[196,0.42],[200,0.42],[205,0.4],[210,0.42],[213,0.4],[214.7,0.36],[216,0.41],[218,0.41],[222,0.43],[226,0.43],[226.9,0.34],[228,0],[274,0],[274.5,0.5],[277,0.52],[280,0.48],[283,0.51],[286,0.44],[289,0.47],[291,0.55],[293,0.61],[295.3,0.85],[297.2,3],[298.5,0.55],[300.2,0.75],[302.6,0.46],[303.5,0.95],[305,0.5],[307,0.78],[309,0.55],[310.5,1.36],[312,0.6],[313.5,0.5],[316,0.65],[319.6,0.6],[322,0.48],[324.4,0.5],[326.5,0.62],[328.7,0.68],[331.7,0.55],[334.7,0.68],[337.8,0.5],[340,0.64],[342.6,0.6],[344.5,0.5],[346.9,0.5],[350,0.6],[352.9,0.62],[356,0.52],[359,0.5],[362,0.55],[365,0.55],[368,0.5],[371.1,0.48],[374,0.52],[377.2,0.5],[380,0.53],[383.2,0.5],[386,0.52],[389.3,0.5],[392,0.52],[395.3,0.52],[398,0.53],[401.4,0.52],[405.6,0.52],[409.2,0.6],[413.5,0.7],[416.5,0.66],[419.6,0.78],[420.2,0],[431.5,0],[432,3],[433.5,1.2],[434.3,3],[436,1.6],[437.8,3],[439.6,0.7],[440.8,3],[442.6,1],[444.4,3],[446.8,1.41],[448.7,1.47],[451.1,0.55],[454.1,3],[456.5,0.6],[460.2,0.52],[463.8,0.6],[466.8,3],[468,0.7],[469.3,3],[470.9,0.6],[474.7,0.62],[478.3,0.58],[481.9,0.5],[486.2,0.47],[490.5,0.55],[493.5,0.6],[496.4,0.55],[498.4,0.41],[501.4,0.45],[507.4,0.43],[513.5,0.43],[519.6,0.42],[525.6,0.42],[531.7,0.42],[537.7,0.41],[543.8,0.42],[549.9,0.42],[555.9,0.41],[562,0.42],[568,0.4],[569.9,0.45],[574.1,0.41],[580.2,0.4],[583.2,0.42],[587.4,0.48],[591,0.42],[594,0.46],[596.5,0.37],[598.3,0],[639.5,0],[640.8,0.52],[643.8,0.45],[646.8,0.5],[649.9,0.46],[652.9,0.5],[655.9,0.45],[659,0.7],[661.4,0.48],[663.8,0.75],[665,3],[666.2,3],[667,0.6],[668,0.5],[671.1,0.55],[673.5,0.72],[676,0.55],[678.3,0.5],[680.8,0.32],[683.2,0.55],[686.2,0.6],[689.2,0.9],[692.3,0.75],[695.3,0.6],[698.3,0.5],[701.4,0.6],[704.4,0.5],[707.4,0.62],[710.5,0.52],[713.5,0.58],[716.5,0.52],[719.5,0.5],[722.6,0.56],[725.6,0.6],[728.6,0.55],[731.7,0.48],[734.7,0.56],[737.7,0.5],[740.8,0.58],[743.8,0.52],[746.8,0.52],[749.8,0.5],[752.9,0.52],[754.7,0.55],[762,0.55]];

const measuredTAN = [[278.6,0.29],[379.8,0.32],[468.8,0.34],[570,0.42],[596.6,0.37],[624.4,0.33],[660.8,0.33],[722.6,0.22],[744.4,0.25]];

const pitN = [[1.4,0.52],[4.5,0.58],[9.3,0.63],[13.6,0.67],[19.6,0.68],[25.7,0.67],[34.8,0.65],[40.8,0.63],[49.9,0.62],[57.8,0.62],[65.1,0.6],[74.2,0.58],[83.2,0.56],[92.3,0.54],[100.2,0.53],[104.5,0.52],[106,0.53],[107,0.67],[108.5,0.72],[110,0.67],[111.7,0.72],[113,0.68],[116.6,0.64],[122.6,0.62],[127,0.61],[131.7,0.61],[136,0.6],[140.8,0.61],[145,0.62],[149.9,0.63],[159,0.64],[168.1,0.65],[177.2,0.65],[186.3,0.66],[195.4,0.65],[204.4,0.65],[213.5,0.65],[215,0.63],[217.8,0.58],[219.5,0.55],[222.6,0.56],[228.7,0.56],[234.7,0.54],[243.8,0.52],[252.9,0.5],[262,0.49],[271.1,0.49],[280.2,0.5],[289.3,0.52],[295.3,0.55],[298,0.58],[300.2,0.63],[302,0.6],[303.5,0.75],[305,0.68],[306.5,0.7],[310.5,0.68],[319.6,0.68],[325.6,0.69],[331.7,0.71],[336.5,0.72],[340.8,0.7],[349.9,0.68],[358.9,0.67],[368.1,0.65],[377.2,0.62],[386.2,0.6],[395.3,0.59],[404.4,0.59],[416.5,0.59],[419.6,0.6],[420.3,null],[431.7,1.3],[433,1.1],[434.7,0.95],[439.6,0.75],[443.8,0.7],[449.9,0.69],[456,0.66],[462,0.64],[465,0.66],[468,0.67],[474.1,0.63],[480.2,0.61],[486.2,0.58],[492.3,0.58],[497,0.56],[498.4,0.5],[500,0.58],[501.5,0.62],[507.4,0.61],[516.5,0.61],[525.6,0.62],[534.7,0.63],[543.8,0.64],[552.9,0.64],[562,0.65],[571,0.65],[580.1,0.64],[589.3,0.63],[598.3,0.62],[607.4,0.62],[616.5,0.61],[625.6,0.6],[634.7,0.59],[643.8,0.58],[652.9,0.57],[662,0.57],[671.1,0.56],[678.3,0.56],[680.8,0.52],[682,0.62],[684.5,0.67],[689.2,0.75],[695.3,0.72],[701.3,0.71],[707.4,0.7],[713.5,0.69],[719.5,0.68],[725.6,0.66],[731.7,0.66],[740.8,0.65],[749.8,0.65],[758.9,0.64],[762,0.64]];

const measuredN = [[395.6,0.49],[499.3,0.46],[510,0.47],[605.8,0.56],[653,0.5],[673.9,0.51],[703,0.41],[738,0.24]];

// ---------- build ----------
const DAYMS = 86400000;
const T0 = Date.parse(DAY0);
const toTS = arr => arr.map(p => [T0 + p[0] * DAYMS, p[1]]);
const xMin = Date.parse(xRange[0]), xMax = Date.parse(xRange[1]);
const xTickVals = xTickLabels.map(s => Date.parse(s + '-01'));
const FONT = 'DejaVu Sans';
const L = 109, R = 114;
const gridTops = [25, 432, 837, 1243, 1649];
const gridHeights = [407, 405, 406, 406, 406];

const grids = gridTops.map((t, i) => ({
  left: L, right: R, top: t, height: gridHeights[i],
  show: true, borderColor: '#000', borderWidth: 1.3, backgroundColor: 'transparent',
  containLabel: false, outerBoundsMode: 'none'
}));

const xAxes = gridTops.map((t, i) => {
  const last = i === 4;
  return {
    type: 'value', gridIndex: i, min: xMin, max: xMax,
    axisLine: { show: false }, splitLine: { show: false },
    axisTick: { show: last, customValues: xTickVals, length: 5, lineStyle: { color: '#000', width: 1.2 } },
    axisLabel: {
      show: last, customValues: xTickVals, margin: 9, fontSize: 19, fontFamily: FONT, color: '#000',
      formatter: v => { const d = new Date(v); return d.getUTCFullYear() + '-' + String(d.getUTCMonth() + 1).padStart(2, '0'); }
    }
  };
});

function yAx(gi, pos, min, max, ticks, name, gap, fmt, lh, fs) {
  return {
    type: 'value', gridIndex: gi, position: pos, min: min, max: max,
    splitLine: { show: false }, axisLine: { show: false },
    axisTick: { show: true, customValues: ticks, length: 5, lineStyle: { color: '#000', width: 1.2 } },
    axisLabel: { customValues: ticks, margin: 9, fontSize: fs || 19, fontFamily: FONT, color: '#000',
      formatter: fmt || (v => String(v)) },
    name: name, nameLocation: 'middle', nameGap: gap, nameRotate: 90, nameMoveOverlap: false,
    nameTextStyle: { fontSize: 22, fontFamily: FONT, color: '#000', lineHeight: lh || 26 }
  };
}

const yAxes = [
  yAx(0, 'left', 0, 50, ticksTemp, 'Temperature (°C)\nAirflow (m³ s⁻¹)', 36, null, 27),
  yAx(0, 'right', 30, 90, ticksRH, 'Relative humidity  (%)', 37),
  yAx(1, 'left', -59.5, 1249.5, ticksHeads, 'Animal heads', 52),
  yAx(1, 'right', -8.9, 186.4, ticksMass, 'Mass density\n(kg weight m⁻²)', 46, null, 28, 18),
  yAx(2, 'left', 0, 28, ticksEmisC, 'NH₃ emission (kg d⁻¹)', 46),
  yAx(3, 'left', -0.815, 17.13, ticksEmisD, 'NH₃ emission (kg d⁻¹)', 46),
  yAx(4, 'left', 0, 2, ticksTAN, 'Slat TAN concentration (g mL⁻¹)', 58, v => v.toFixed(2)),
  yAx(4, 'right', 0, 1.5, ticksPitN, 'Pit N concentration (g mL⁻¹)', 41, v => v.toFixed(1))
];

function lineS(name, xi, yi, data, color, extra) {
  return Object.assign({
    name: name, type: 'line', xAxisIndex: xi, yAxisIndex: yi, data: toTS(data),
    symbol: 'none', showSymbol: false, connectNulls: false, clip: true,
    lineStyle: { color: color, width: 2 }, itemStyle: { color: color, opacity: 0 },
    emphasis: { disabled: true }, animation: false
  }, extra || {});
}

const vMark = {
  silent: true, symbol: ['none', 'none'], animation: false,
  label: { show: false },
  lineStyle: { color: '#1f77b4', width: 3.5, type: [16, 7], opacity: 1 },
  emphasis: { disabled: true },
  data: vlineDates.map(s => ({ xAxis: Date.parse(s) }))
};

const crossPath = 'path://M0,1L1,0L5,4L9,0L10,1L6,5L10,9L9,10L5,6L1,10L0,9L4,5Z';

const series = [
  lineS('Indoor T', 0, 0, indoorT, '#ff0000'),
  lineS('Airflow', 0, 0, airflow, '#008000'),
  lineS('RH', 0, 1, rhPct, '#ff8c00'),
  lineS('Heads', 1, 2, heads, '#000000'),
  lineS('Mass density', 1, 3, massDensity, '#ff0000', { lineStyle: { color: '#ff0000', width: 2, type: [7, 3] } }),
  lineS('Measured', 2, 4, emisMeasured, '#000000'),
  lineS('Modelled', 2, 4, emisModelled, '#ff0000'),
  lineS('Slat', 3, 5, slatEmis, '#ff0000'),
  lineS('Pit', 3, 5, pitEmis, '#000000', { markLine: vMark }),
  lineS('modelled TAN', 4, 6, slatTAN, '#ff0000', { markLine: vMark }),
  { name: 'measured TAN', type: 'scatter', xAxisIndex: 4, yAxisIndex: 6, data: toTS(measuredTAN),
    symbol: 'circle', symbolSize: 9, itemStyle: { color: '#ff0000' }, animation: false },
  lineS('modelled N', 4, 7, pitN, '#000000', { lineStyle: { color: '#000', width: 2, type: [7, 3] } }),
  { name: 'measured N', type: 'scatter', xAxisIndex: 4, yAxisIndex: 7, data: toTS(measuredN),
    symbol: crossPath, symbolSize: 11, itemStyle: { color: '#000' }, animation: false }
];

function leg(names, top) {
  return {
    data: names, orient: 'vertical', right: 124, top: top,
    itemWidth: 38, itemHeight: 9, itemGap: 9, selectedMode: false,
    padding: [6, 8, 6, 6], backgroundColor: 'rgba(255,255,255,0.8)',
    borderColor: '#cccccc', borderWidth: 1, borderRadius: 4,
    textStyle: { fontSize: 18, fontFamily: FONT, color: '#000', lineHeight: 18, padding: [0, 0, 0, 8] }
  };
}

const legends = [
  leg(['Indoor T', 'Airflow', 'RH'], 338),
  leg(['Heads', 'Mass density'], 770),
  leg(['Measured', 'Modelled'], 1177),
  leg(['Slat', 'Pit'], 1583),
  leg(['modelled TAN', 'measured TAN', 'modelled N', 'measured N'], 1659)
];

const letters = ['(a)', '(b)', '(c)', '(d)', '(e)'];
const letterTops = [30, 437, 842, 1248, 1654];
const titles = letters.map((t, i) => ({
  text: t, left: 112, top: letterTops[i], padding: 0,
  textStyle: { fontSize: 28, fontWeight: 'normal', fontFamily: FONT, color: '#000' }
}));

const chart = echarts.init(document.getElementById('c'), null, { renderer: 'canvas' });
chart.setOption({
  animation: false,
  backgroundColor: '#ffffff',
  textStyle: { fontFamily: FONT },
  title: titles,
  grid: grids,
  xAxis: xAxes,
  yAxis: yAxes,
  legend: legends,
  series: series
});
</script>
</body></html>
